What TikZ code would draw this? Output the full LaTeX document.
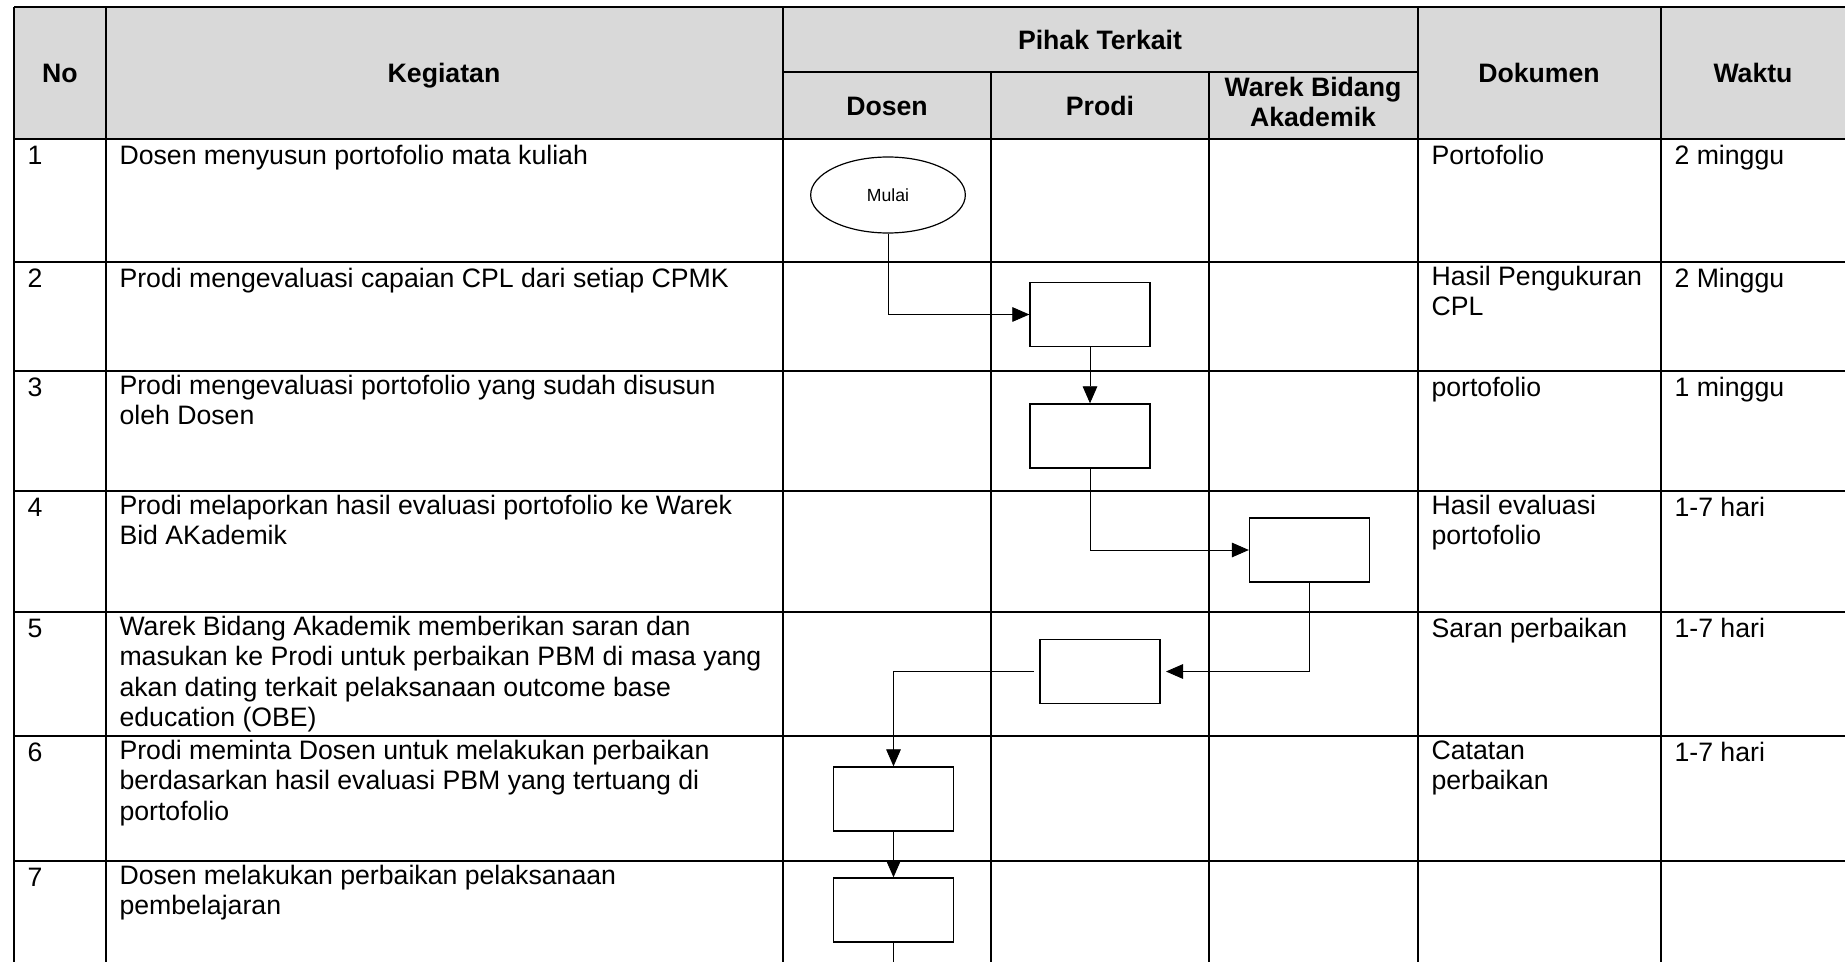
\documentclass[tikz,border=0pt]{standalone}
\usepackage{fontspec}
\setmainfont{Liberation Sans}
\usepackage{tikz}
\usetikzlibrary{shapes.geometric,arrows.meta}

\begin{document}
\begin{tikzpicture}[x=0.375pt,y=-0.375pt,
  garis/.style={line width=0.7pt},
  kepala/.style={anchor=north,align=center,inner sep=0pt,font=\fontsize{10}{11.3}\selectfont\bfseries,execute at begin node=\strut},
  isi/.style={anchor=north west,align=left,inner sep=0pt,font=\fontsize{10}{11.3}\selectfont,execute at begin node=\strut},
  proses/.style={draw,line width=0.5pt,minimum width=45pt,minimum height=24pt,inner sep=0pt},
  hubung/.style={line width=0.35pt},
  alur/.style={hubung,->},
  >={Triangle[length=6.4pt,width=5.5pt]}]
 \useasboundingbox (0,0) rectangle (1845,962);
 \fill[black!15] (14,7) rectangle (1845,139);

 \draw[garis] (14,7) -- (1845,7);
 \draw[garis] (783,72) -- (1418,72);
 \draw[garis] (14,139) -- (1845,139);
 \draw[garis] (14,262) -- (1845,262);
 \draw[garis] (14,371) -- (1845,371);
 \draw[garis] (14,491) -- (1845,491);
 \draw[garis] (14,612) -- (1845,612);
 \draw[garis] (14,736) -- (1845,736);
 \draw[garis] (14,861) -- (1845,861);
 \draw[garis] (14,7) -- (14,962);
 \draw[garis] (106,7) -- (106,962);
 \draw[garis] (783,7) -- (783,962);
 \draw[garis] (991,72) -- (991,962);
 \draw[garis] (1209,72) -- (1209,962);
 \draw[garis] (1418,7) -- (1418,962);
 \draw[garis] (1661,7) -- (1661,962);

 \node[kepala] (hNo) at (60,61) {No};
 \node[kepala] (hKegiatan) at (444,61) {Kegiatan};
 \node[kepala] (hPihak) at (1100,28) {Pihak Terkait};
 \node[kepala] (hDosen) at (887,94) {Dosen};
 \node[kepala] (hProdi) at (1100,94) {Prodi};
 \node[kepala] (hWarek) at (1313,77) {Warek Bidang\\Akademik};
 \node[kepala] (hDokumen) at (1539,61) {Dokumen};
 \node[kepala] (hWaktu) at (1753,61) {Waktu};

 \node[isi] (no1) at (27,143) {1};
 \node[isi] (keg1) at (119,143) {Dosen menyusun portofolio mata kuliah};
 \node[isi] (dok1) at (1431,143) {Portofolio};
 \node[isi] (wkt1) at (1674,143) {2 minggu};

 \node[isi] (no2) at (27,266) {2};
 \node[isi] (keg2) at (119,266) {Prodi mengevaluasi capaian CPL dari setiap CPMK};
 \node[isi] (dok2) at (1431,266) {Hasil Pengukuran\\CPL};
 \node[isi] (wkt2) at (1674,266) {2 Minggu};

 \node[isi] (no3) at (27,375) {3};
 \node[isi] (keg3) at (119,375) {Prodi mengevaluasi portofolio yang sudah disusun\\oleh Dosen};
 \node[isi] (dok3) at (1431,375) {portofolio};
 \node[isi] (wkt3) at (1674,375) {1 minggu};

 \node[isi] (no4) at (27,495) {4};
 \node[isi] (keg4) at (119,495) {Prodi melaporkan hasil evaluasi portofolio ke Warek\\Bid AKademik};
 \node[isi] (dok4) at (1431,495) {Hasil evaluasi\\portofolio};
 \node[isi] (wkt4) at (1674,495) {1-7 hari};

 \node[isi] (no5) at (27,616) {5};
 \node[isi] (keg5) at (119,616) {Warek Bidang Akademik memberikan saran dan\\masukan ke Prodi untuk perbaikan PBM di masa yang\\akan dating terkait pelaksanaan outcome base\\education (OBE)};
 \node[isi] (dok5) at (1431,616) {Saran perbaikan};
 \node[isi] (wkt5) at (1674,616) {1-7 hari};

 \node[isi] (no6) at (27,740) {6};
 \node[isi] (keg6) at (119,740) {Prodi meminta Dosen untuk melakukan perbaikan\\berdasarkan hasil evaluasi PBM yang tertuang di\\portofolio};
 \node[isi] (dok6) at (1431,740) {Catatan\\perbaikan};
 \node[isi] (wkt6) at (1674,740) {1-7 hari};

 \node[isi] (no7) at (27,865) {7};
 \node[isi] (keg7) at (119,865) {Dosen melakukan perbaikan pelaksanaan\\pembelajaran};

 \node[ellipse, draw, line width=0.45pt, minimum width=58pt, minimum height=28.5pt, inner sep=0pt, font=\fontsize{6.6}{8}\selectfont] (mulai) at (888,195) {Mulai};
 \node[proses] (b1) at (1090,314.5) {};
 \node[proses] (b2) at (1090,436) {};
 \node[proses] (b3) at (1309.5,550) {};
 \node[proses] (b4) at (1100,671.5) {};
 \node[proses] (b5) at (893.5,799) {};
 \node[proses] (b6) at (893.5,910) {};
 \coordinate (lanjut) at (893.5,962);

 \draw[alur] (mulai.south) |- (b1.west);
 \draw[alur] (b1.south) -- (b2.north);
 \draw[alur] (b2.south) |- (b3.west);
 \draw[alur, shorten >=2pt] (b3.south) |- (b4.east);
 \draw[alur, shorten <=2pt] (b4.west) -| (b5.north);
 \draw[alur] (b5.south) -- (b6.north);
 \draw[hubung] (b6.south) -- (lanjut);
\end{tikzpicture}
\end{document}
